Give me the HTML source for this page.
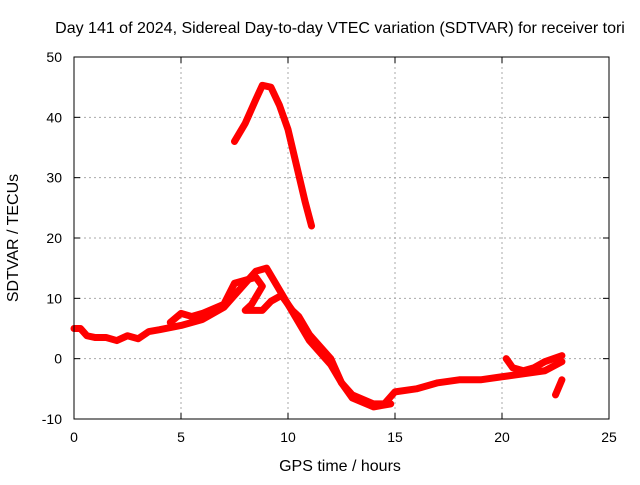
<!DOCTYPE html>
<html><head><meta charset="utf-8"><style>
body{margin:0;background:#fff}
svg text{font-family:"Liberation Sans",sans-serif;font-size:14px;fill:#000}
svg text.big{font-size:16px}
</style></head><body>
<svg width="640" height="480" id="chart">
<text class="big" x="340" y="33" text-anchor="middle">Day 141 of 2024, Sidereal Day-to-day VTEC variation (SDTVAR) for receiver tori</text>
<text class="big" x="340" y="471" text-anchor="middle">GPS time / hours</text>
<text class="big" transform="translate(18,238) rotate(-90)" text-anchor="middle">SDTVAR / TECUs</text>
<g id="grid"></g><g id="ticks"></g><g id="marks"></g>
<rect x="74" y="57" width="535" height="362" fill="none" stroke="#000"/>
</svg>
<script>
const xTicks=[0,5,10,15,20,25];
const yTicks=[-10,0,10,20,30,40,50];
const topArc=[[7.5,36],[8,39],[8.5,43],[8.8,45.3],[9.2,45],[9.6,42],[10,38],[10.4,32],[10.8,26],[11.1,22]];
const bandA=[[0,5],[0.3,5],[0.6,3.8],[1,3.5],[1.5,3.5],[2,3],[2.5,3.8],[3,3.3],[3.5,4.5],[4,4.8],[5,5.5],[6,6.5],[7,8.5],[7.5,10.5],[8,12.5],[8.5,14.5],[9,15],[9.5,12],[10,9],[10.5,6],[11,3],[12,-1],[12.5,-4],[13,-6],[14,-7.5],[14.5,-7.5],[15,-5.5],[16,-5],[17,-4],[18,-3.5],[19,-3.5],[20,-3],[21,-2.5],[22,-2],[22.8,-0.5]];
const bandB=[[4.5,6],[5,7.5],[5.5,7],[6,7.5],[7,9],[7.5,12.5],[8,13],[8.5,13.5],[8.8,12],[8.3,9],[8,8],[8.8,8],[9.2,9.5],[9.7,10.5],[10.2,8],[10.5,7],[11,4],[12,0],[12.5,-4],[13,-6.5],[14,-8],[14.8,-7.5]];
const bandC=[[20.2,0],[20.5,-1.5],[21,-2],[21.5,-1.5],[22,-0.5],[22.8,0.5]];
const bandD=[[22.5,-6],[22.8,-3.5]];
const series=[topArc,bandA,bandB,bandC,bandD];
const X=v=>74+v*535/25, Y=v=>419-(v+10)*362/60;
const ns="http://www.w3.org/2000/svg";
const g=document.getElementById('grid'),t=document.getElementById('ticks'),m=document.getElementById('marks');
function mk(tag,at,par){const e=document.createElementNS(ns,tag);for(const k in at)e.setAttribute(k,at[k]);par.appendChild(e);return e;}
xTicks.forEach(v=>{
 const l=mk('line',{x1:X(v),x2:X(v),y1:57,y2:419,stroke:'#aaa','stroke-dasharray':'2,3'},g);
 
 
 mk('line',{x1:X(v),x2:X(v),y1:419,y2:413,stroke:'#000'},t);
 mk('line',{x1:X(v),x2:X(v),y1:57,y2:63,stroke:'#000'},t);
 const tx=mk('text',{x:X(v),y:442,'text-anchor':'middle'},t);tx.textContent=v;
 
 
});
yTicks.forEach(v=>{
 const l=mk('line',{x1:74,x2:609,y1:Y(v),y2:Y(v),stroke:'#aaa','stroke-dasharray':'2,3'},g);
 
 
 mk('line',{x1:74,x2:80,y1:Y(v),y2:Y(v),stroke:'#000'},t);
 mk('line',{x1:603,x2:609,y1:Y(v),y2:Y(v),stroke:'#000'},t);
 const tx=mk('text',{x:62,y:Y(v)+5,'text-anchor':'end'},t);tx.textContent=v;
 
 
});
series.forEach(s=>{
 const p=mk('polyline',{points:s.map(d=>X(d[0])+','+Y(d[1])).join(' '),fill:'none',stroke:'#f00','stroke-width':7,'stroke-linejoin':'round','stroke-linecap':'round'},m);
 
 
});
</script>
</body></html>
